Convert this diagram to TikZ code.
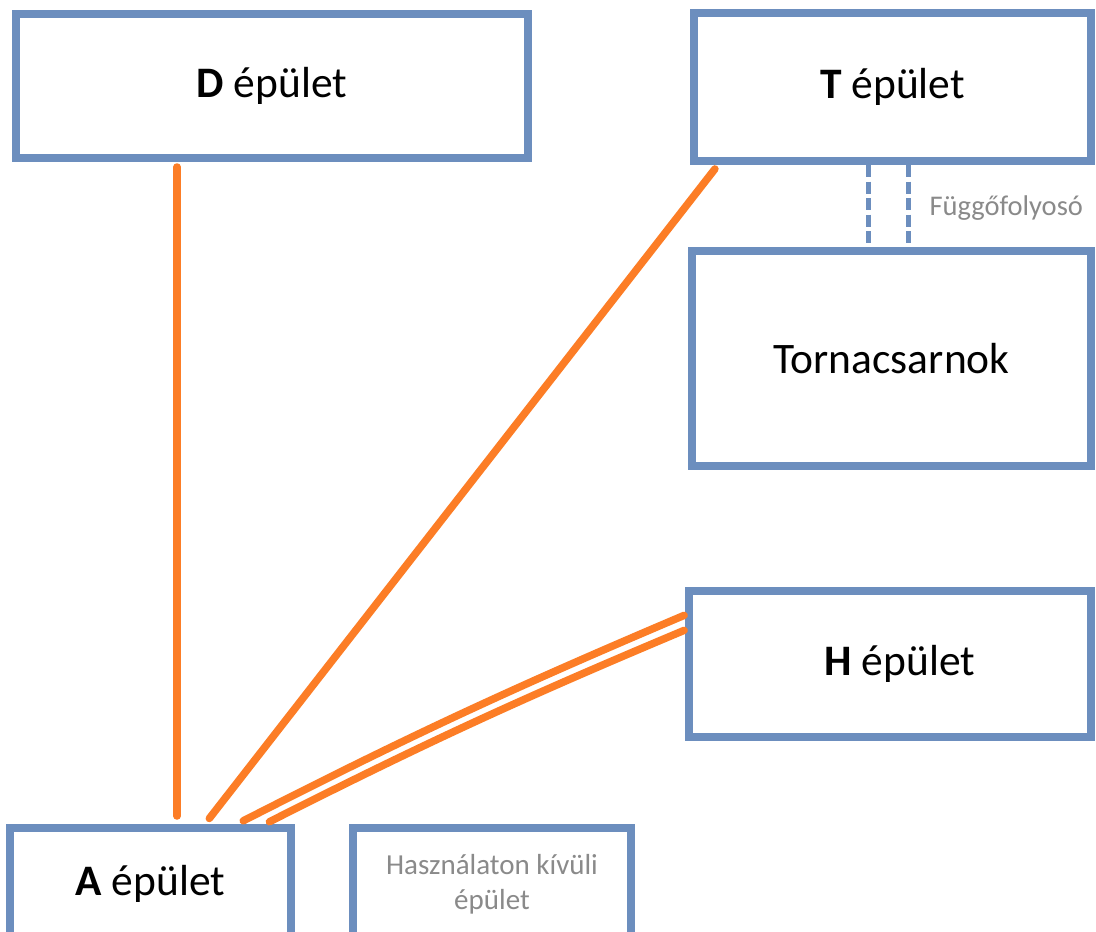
\documentclass[tikz,border=0pt]{standalone}
\usepackage{fontspec}
\setmainfont{Carlito}
\usepackage{tikz}
\usetikzlibrary{positioning}

\definecolor{keret}{RGB}{108,142,190}
\definecolor{narancs}{RGB}{252,125,38}
\definecolor{szurke}{RGB}{138,138,138}

\begin{document}
\begin{tikzpicture}[x = 1pt , y = -1pt ,
    epulet/.style = {draw = keret , line width = 8pt , fill = white , inner sep = 0pt , font = \fontsize{43.5}{50}\selectfont},
    kisepulet/.style = {epulet , text = szurke , align = center , font = \fontsize{29}{35}\selectfont},
    link/.style = {draw = narancs , line width = 7.5pt , line cap = round},
    folyoso/.style = {draw = keret , line width = 5pt , dash pattern = on 12pt off 4.5pt}]
    \path[use as bounding box , clip] (0,0) rectangle (1096,932);
    \fill[white] (0,0) rectangle (1096,932);
    % Epuletek
    \node[epulet , minimum width = 512pt , minimum height = 144pt] (D) at (272,86) {\textbf{D} épület};
    \node[epulet , minimum width = 397pt , minimum height = 148pt] (T) at (892.5,87) {\textbf{T} épület};
    \node[epulet , minimum width = 399pt , minimum height = 215pt] (Torna) at (891.5,358.5) {Tornacsarnok};
    \node[epulet , minimum width = 402pt , minimum height = 146pt] (H) at (890,664) {\hspace*{20pt}\textbf{H} épület};
    \node[epulet , minimum width = 281pt , minimum height = 112pt] (A) at (150.5,884) {\textbf{A} épület};
    \node[kisepulet , minimum width = 278pt , minimum height = 112pt] (Kivuli) at (492,884) {Használaton kívüli\\épület};
    % Fuggofolyoso
    \draw[folyoso] ([xshift = -24.5]T.south) -- ([xshift = -24.5]T.south |- Torna.north);
    \draw[folyoso] ([xshift = 15.5]T.south) -- ([xshift = 15.5]T.south |- Torna.north);
    \node[anchor = west , text = szurke , font = \fontsize{28.5}{35}\selectfont] (FolyosoFelirat) at (926,208) {Függőfolyosó};
    % Kapcsolatok
    \draw[link , shorten <= 5pt , shorten >= 8pt] ([xshift = -95]D.south) -- ([xshift = -95]D.south |- A.north);
    \draw[link , shorten <= 5pt , shorten >= 7pt] ([xshift = -174.5]T.south) -- ([xshift = 54.5]A.north);
    \draw[link , shorten <= 1pt , shorten >= 7pt] ([yshift = 49]H.west) to[bend right = 2] ([xshift = 86.5]A.north);
    \draw[link , shorten <= 1pt , shorten >= 5pt] ([yshift = 34]H.west) to[bend right = 2] ([xshift = 114.5]A.north);
\end{tikzpicture}
\end{document}
